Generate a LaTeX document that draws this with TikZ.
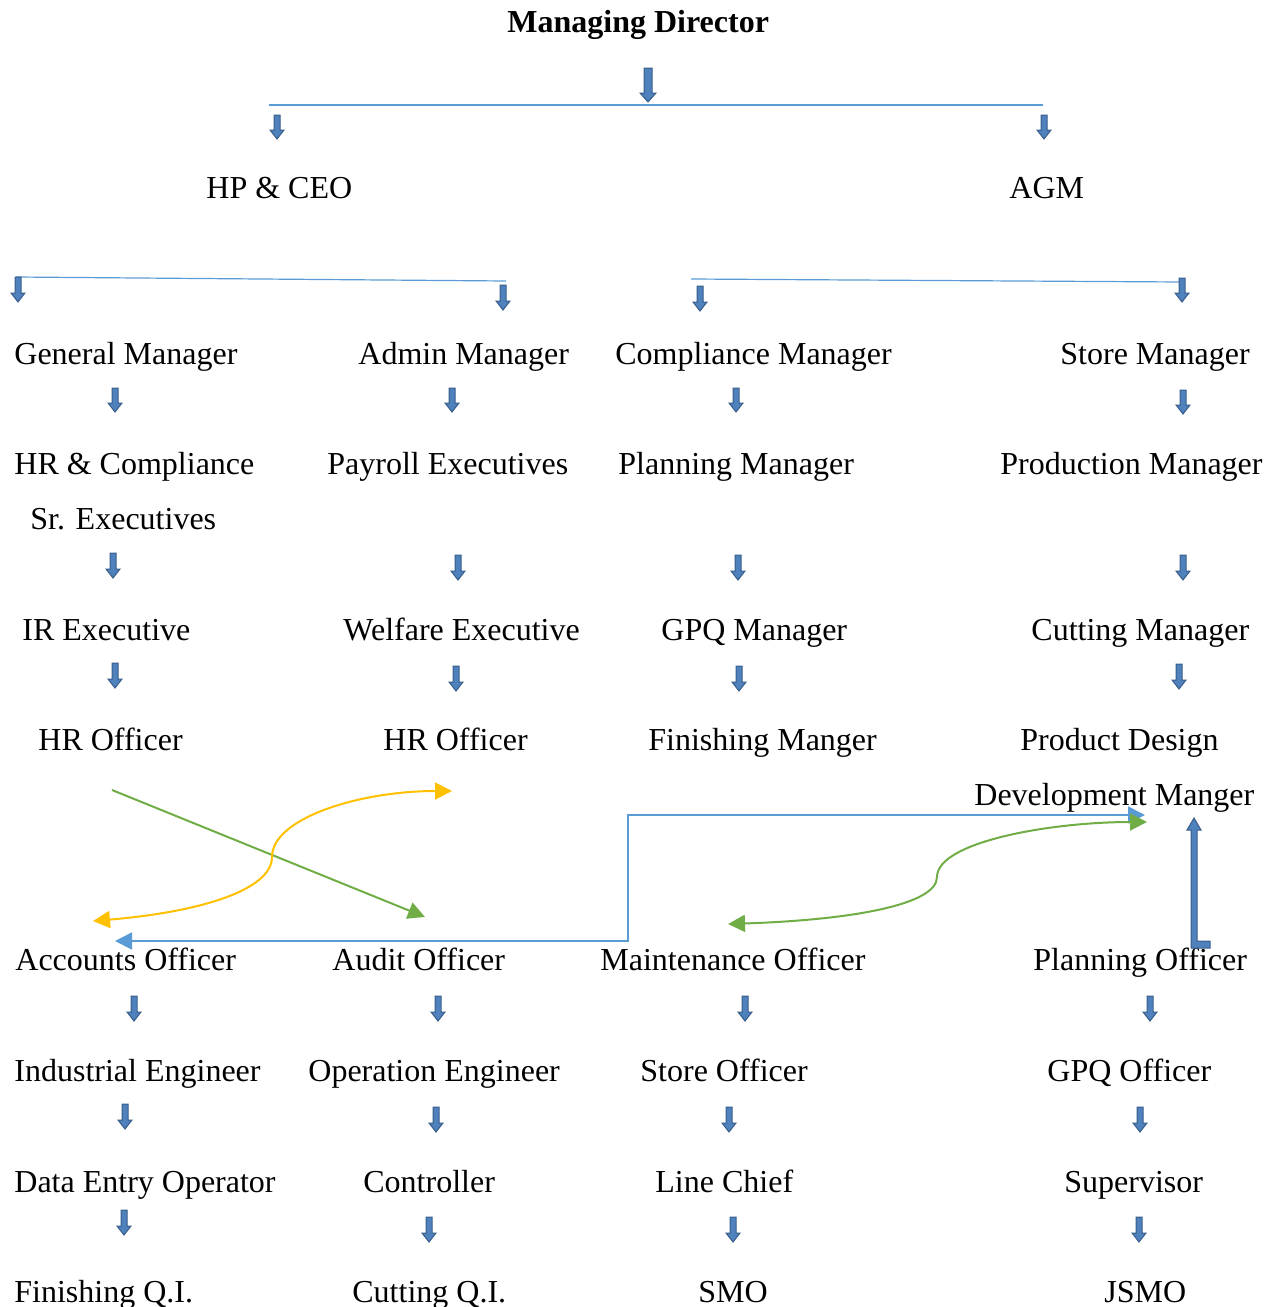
\documentclass[tikz,border=0pt]{standalone}
\usepackage{fontspec}
\setmainfont{Liberation Serif}
\usetikzlibrary{arrows.meta}
\definecolor{bfill}{HTML}{4F81BD}
\definecolor{bline}{HTML}{385D8A}
\definecolor{lblue}{HTML}{5B9BD5}
\definecolor{ygold}{HTML}{FFC000}
\definecolor{ggreen}{HTML}{70AD47}
\newcommand\dnarrow[3]{%
  \filldraw[blockarr] (#1-3,#2) -- (#1+3,#2) -- (#1+3,#3-9) -- (#1+7,#3-9) -- (#1,#3) -- (#1-7,#3-9) -- (#1-3,#3-9) -- cycle;}
\begin{document}
\begin{tikzpicture}[x=0.5pt,y=-0.5pt,
  lbl/.style={anchor=base west,inner sep=0,font=\fontsize{16}{19}\selectfont},
  blockarr/.style={fill=bfill,draw=bline,line width=0.5pt},
  thinline/.style={draw=lblue,line width=0.6pt},
  conn/.style={line width=1pt,arrows={Triangle[length=8.5pt,width=8.5pt]-Triangle[length=8.5pt,width=8.5pt]}},
  conn1/.style={line width=1pt,arrows={-Triangle[length=8.5pt,width=8.5pt]}}]
\useasboundingbox (0,0) rectangle (1273,1307);

% texts
\node[lbl,font=\fontsize{16}{19}\selectfont\bfseries] (md) at (507,32) {Managing Director};
\node[lbl] (hp) at (206,198) {HP \& CEO};
\node[lbl] (agm) at (1009,198) {AGM};

\node[lbl] (gm) at (14,364) {General Manager};
\node[lbl] (am) at (358,364) {Admin Manager};
\node[lbl] (cm) at (615,364) {Compliance Manager};
\node[lbl] (sm) at (1060,364) {Store Manager};

\node[lbl] (hrc) at (14,474) {HR \& Compliance};
\node[lbl] (pe) at (327,474) {Payroll Executives};
\node[lbl] (pm) at (618,474) {Planning Manager};
\node[lbl] (prm) at (1000,474) {Production Manager};
\node[lbl] (sre) at (30,529) {Sr. Executives};

\node[lbl] (ire) at (22,640) {IR Executive};
\node[lbl] (we) at (343,640) {Welfare Executive};
\node[lbl] (gpqm) at (661,640) {GPQ Manager};
\node[lbl] (ctm) at (1031,640) {Cutting Manager};

\node[lbl] (hro1) at (38,750) {HR Officer};
\node[lbl] (hro2) at (383,750) {HR Officer};
\node[lbl] (fm) at (648,750) {Finishing Manger};
\node[lbl] (pd) at (1020,750) {Product Design};
\node[lbl] (dm) at (974,805) {Development Manger};

\node[lbl] (ao) at (15,970) {Accounts Officer};
\node[lbl] (auo) at (332,970) {Audit Officer};
\node[lbl] (mo) at (600,970) {Maintenance Officer};
\node[lbl] (po) at (1033,970) {Planning Officer};

\node[lbl] (ie) at (14,1081) {Industrial Engineer};
\node[lbl] (oe) at (308,1081) {Operation Engineer};
\node[lbl] (so) at (640,1081) {Store Officer};
\node[lbl] (gpqo) at (1047,1081) {GPQ Officer};

\node[lbl] (deo) at (14,1192) {Data Entry Operator};
\node[lbl] (ctl) at (363,1192) {Controller};
\node[lbl] (lc) at (655,1192) {Line Chief};
\node[lbl] (sup) at (1064,1192) {Supervisor};

\node[lbl] (fqi) at (14,1302) {Finishing Q.I.};
\node[lbl] (cqi) at (352,1302) {Cutting Q.I.};
\node[lbl] (smo) at (698,1302) {SMO};
\node[lbl] (jsmo) at (1104,1302) {JSMO};

% thin bracket lines
\coordinate (l1a) at (269,105); \coordinate (l1b) at (1043,105);
\coordinate (l2a) at (16,277); \coordinate (l2b) at (506,281);
\coordinate (l3a) at (691,279); \coordinate (l3b) at (1182,282);
\draw[thinline] (l1a) -- (l1b);
\draw[thinline] (l2a) -- (l2b);
\draw[thinline] (l3a) -- (l3b);

% block arrows
\filldraw[blockarr] (644,68) -- (652,68) -- (652,93) -- (656,93) -- (648,102) -- (640,93) -- (644,93) -- cycle;
\dnarrow{277}{115}{139}
\dnarrow{1044}{115}{139}
\dnarrow{18}{277}{302}
\dnarrow{503}{285}{310}
\dnarrow{700}{286}{311}
\dnarrow{1182}{278}{302}
\dnarrow{115}{388}{412}
\dnarrow{452}{388}{412}
\dnarrow{736}{388}{412}
\dnarrow{1183}{390}{414}
\dnarrow{113}{553}{578}
\dnarrow{458}{555}{580}
\dnarrow{738}{555}{580}
\dnarrow{1183}{555}{580}
\dnarrow{115}{663}{688}
\dnarrow{456}{666}{691}
\dnarrow{739}{666}{691}
\dnarrow{1179}{664}{689}
\dnarrow{134}{996}{1021}
\dnarrow{438}{996}{1021}
\dnarrow{745}{996}{1021}
\dnarrow{1150}{996}{1021}
\dnarrow{125}{1104}{1129}
\dnarrow{436}{1107}{1132}
\dnarrow{729}{1107}{1132}
\dnarrow{1140}{1107}{1132}
\dnarrow{124}{1210}{1235}
\dnarrow{429}{1217}{1242}
\dnarrow{733}{1217}{1242}
\dnarrow{1139}{1217}{1242}

% bent-up arrow
\filldraw[blockarr] (1191,948) -- (1210,948) -- (1210,941) -- (1197,941) -- (1197,830) -- (1201,830) -- (1194,818) -- (1187,830) -- (1191,830) -- cycle;

% connectors
\coordinate (g1s) at (112,790); \coordinate (g1e) at (425,917);
\draw[conn1,ggreen] (g1s) -- (g1e);

\coordinate (y1a) at (93,921); \coordinate (y1m) at (272,857); \coordinate (y1b) at (452,791);
\draw[conn,ygold] (y1a) .. controls (200,912) and (272,890) .. (y1m) .. controls (272,818) and (360,791) .. (y1b);

\coordinate (b1a) at (115,941); \coordinate (b1k1) at (628,941); \coordinate (b1k2) at (628,815); \coordinate (b1b) at (1145,815);
\draw[conn,lblue,line width=0.9pt] (b1a) -- (b1k1) -- (b1k2) -- (b1b);

\coordinate (g2a) at (728,924); \coordinate (g2m) at (937,877); \coordinate (g2b) at (1147,822);
\draw[conn,ggreen] (g2a) .. controls (850,920) and (937,905) .. (g2m) .. controls (937,842) and (1050,822) .. (g2b);
\end{tikzpicture}
\end{document}
